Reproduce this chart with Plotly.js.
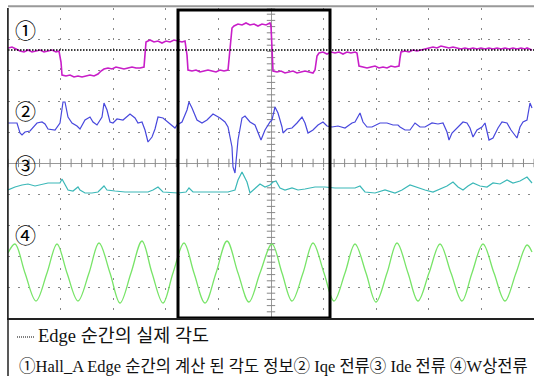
<!DOCTYPE html>
<html>
<head>
<meta charset="utf-8">
<script src="https://cdn.plot.ly/plotly-3.0.1.min.js"></script>
<style>html,body{margin:0;padding:0;background:#fff;}#chart{width:534px;height:376px;}</style>
</head>
<body>
<div id="chart"></div>
<script>
// time axis: samples relative to screen centre; value: counts relative to centre line (positive up)
// ① Hall_A edge computed angle (magenta)
const ch1T = [-263,-259,-255,-251,-247,-243,-239,-235,-231,-227,-223,-219,-215,-212,-210,-209,-205,-201,-197,-193,-189,-185,-181,-177,-173,-170,-167,-163,-159,-155,-151,-147,-143,-139,-135,-131,-127,-126,-125,-121,-117,-113,-109,-105,-101,-97,-93,-89,-86,-84,-83,-79,-75,-71,-67,-63,-59,-55,-51,-47,-43,-41,-39,-37,-33,-29,-25,-21,-17,-13,-9,-5,-1,0,1,2,6,10,14,18,22,26,30,34,38,42,44,46,48,52,56,60,64,68,72,76,80,84,86,87,88,92,96,100,104,108,112,116,120,124,128,129,130,134,138,142,146,150,154,158,162,166,170,174,178,182,186,190,194,198,202,206,210,214,218,222,226,230,234,238,242,246,250,254,256,258,261];
const ch1V = [115,116,114,112,111,113,111,112,113,111,112,113,111,112,101,88,87,88,86,87,86,87,88,87,89,92,94,95,94,96,95,94,95,96,95,95,96,108,121,123,121,122,120,122,121,123,122,121,122,108,93,92,93,91,92,93,92,91,93,92,93,113,135,137,139,138,140,138,139,137,139,138,140,137,113,92,91,92,90,91,92,90,91,92,91,90,93,107,110,111,109,111,110,111,109,111,110,111,110,103,97,96,95,96,97,95,96,95,97,96,97,105,111,112,111,113,112,113,114,115,116,115,117,116,115,116,115,114,115,114,115,114,115,114,115,114,115,114,115,114,115,114,115,114,115,114,113,98,87];
// ② Iqe current (blue)
const ch2T = [-263,-254,-251,-249,-246,-241,-234,-229,-226,-223,-216,-211,-208,-206,-203,-199,-194,-191,-186,-181,-178,-174,-169,-167,-164,-161,-158,-154,-148,-141,-136,-133,-129,-126,-123,-119,-116,-113,-108,-103,-99,-96,-94,-89,-84,-82,-79,-74,-69,-64,-58,-51,-46,-43,-39,-38,-36,-33,-29,-26,-21,-16,-10,-6,-1,1,4,7,11,12,16,21,26,31,34,37,42,47,52,56,61,67,74,81,84,89,92,96,101,109,116,122,127,129,134,139,144,149,154,161,167,172,176,178,181,187,192,196,199,202,206,211,214,218,222,227,231,236,240,246,249,252,256,259,261];
const ch2V = [40,40,30,28,31,32,40,41,39,34,33,40,61,61,46,40,37,34,43,46,41,38,46,60,53,41,40,44,43,49,45,40,41,33,21,26,34,46,45,41,38,35,38,41,53,61,55,43,40,43,49,45,41,36,16,-4,-10,23,45,47,41,38,23,33,41,43,56,50,36,30,34,35,40,46,40,30,33,38,41,37,36,37,35,40,41,50,41,36,36,40,40,38,38,36,33,33,40,36,36,40,39,40,31,23,30,36,41,40,35,26,33,36,40,23,25,35,41,40,33,25,36,41,43,60,55];
// ③ Ide current (teal)
const ch3T = [-263,-256,-249,-243,-236,-229,-223,-216,-211,-209,-206,-203,-198,-193,-191,-186,-179,-173,-167,-164,-156,-146,-133,-123,-118,-113,-108,-93,-85,-82,-78,-63,-43,-36,-33,-29,-24,-21,-16,-11,-6,-1,2,5,9,14,21,27,34,44,54,64,74,84,89,94,104,114,124,131,139,147,154,162,169,176,182,187,192,197,202,209,216,222,229,236,242,249,256,261];
const ch3V = [-27,-24,-22,-21,-23,-21,-20,-20,-20,-16,-22,-27,-28,-24,-27,-30,-30,-29,-23,-27,-28,-29,-29,-29,-27,-24,-29,-30,-29,-25,-29,-29,-29,-27,-17,-9,-19,-30,-25,-21,-24,-22,-19,-18,-25,-27,-25,-27,-26,-24,-24,-25,-25,-25,-23,-29,-30,-27,-30,-27,-22,-25,-27,-29,-26,-23,-19,-24,-27,-23,-20,-23,-24,-20,-21,-17,-20,-18,-14,-20];
// ④ W phase current (green)
const ch4T = [-263,-256,-246,-235,-224,-214,-204,-193,-182,-172,-161,-151,-140,-129,-119,-108,-98,-87,-77,-66,-55,-44,-33,-22,-11,1,11,21,32,42,53,63,74,84,95,105,116,126,137,147,158,169,180,191,201,212,223,234,245,256,261];
const ch4V = [-90,-81,-110,-138,-110,-81,-110,-138,-110,-80,-110,-140,-110,-78,-110,-140,-110,-80,-110,-140,-110,-78,-110,-139,-110,-81,-110,-138,-110,-80,-110,-138,-110,-81,-110,-139,-110,-80,-110,-138,-110,-81,-110,-138,-110,-81,-110,-138,-110,-82,-89];
// real angle at the edge instant (reference level)
const refLevel = 113;
// highlighted window
const boxT = [-93, 59];
const channelLabels = ['①','②','③','④'];
const channelLabelV = [132, 51, -3, -73];
const legendLine1 = 'Edge 순간의 실제 각도';
const legendLine2 = '①Hall_A Edge 순간의 계산 된 각도 정보② Iqe 전류③ Ide 전류 ④W상전류';

const X0 = -263, X1 = 263, Y0 = -155, Y1 = 155;
const DX = 52.6, DY = 31;

// centre-cross tick marks (decoration)
const tkx = [], tky = [], tvx = [], tvy = [];
for (let t = X0; t <= X1 + 0.01; t += DX / 5) { tkx.push(t); tky.push(0); }
for (let v = Y0; v <= Y1 + 0.01; v += DY / 5) { tvx.push(0); tvy.push(v); }

const serif = 'Liberation Serif, Noto Sans CJK KR, serif';

const traces = [
  {x: tkx, y: tky, mode: 'markers', marker: {symbol: 'line-ns', size: 6, line: {width: 1, color: '#888'}}, hoverinfo: 'skip', showlegend: false},
  {x: tvx, y: tvy, mode: 'markers', marker: {symbol: 'line-ew', size: 6, line: {width: 1, color: '#888'}}, hoverinfo: 'skip', showlegend: false},
  {x: ch1T, y: ch1V, mode: 'lines', line: {color: '#c81ec8', width: 1.6}, name: '①', showlegend: false},
  {x: ch2T, y: ch2V, mode: 'lines', line: {color: '#4848dd', width: 1.2}, name: '②', showlegend: false},
  {x: ch3T, y: ch3V, mode: 'lines', line: {color: '#3bb8b8', width: 1.2}, name: '③', showlegend: false},
  {x: ch4T, y: ch4V, mode: 'lines', line: {color: '#78e468', width: 1.3, shape: 'spline', smoothing: 1}, name: '④', showlegend: false}
];

const annotations = channelLabels.map((s, i) => ({
  x: -246, y: channelLabelV[i], xref: 'x', yref: 'y', text: s, showarrow: false,
  font: {family: serif, size: 21, color: '#000'}, xanchor: 'center', yanchor: 'middle'
}));
annotations.push({x: (36 - 8) / 526, y: -(336 - 318) / 310, xref: 'paper', yref: 'paper', text: legendLine1,
  showarrow: false, xanchor: 'left', yanchor: 'middle', font: {family: serif, size: 18.5, color: '#111'}});
annotations.push({x: (17 - 8) / 526, y: -(367 - 318) / 310, xref: 'paper', yref: 'paper', text: legendLine2,
  showarrow: false, xanchor: 'left', yanchor: 'middle', font: {family: serif, size: 16.5, color: '#111'}});

const shapes = [
  {type: 'line', xref: 'x', yref: 'y', x0: X0, x1: X1, y0: refLevel, y1: refLevel, line: {color: '#000', width: 1.3, dash: '1.5px,1.5px'}},
  {type: 'rect', xref: 'x', yref: 'y', x0: boxT[0], x1: boxT[1], y0: Y0, y1: 153, line: {color: '#000', width: 3}},
  {type: 'line', xref: 'paper', yref: 'paper', x0: 0, x1: 1, y0: 1.006, y1: 1.006, line: {color: '#999', width: 2}},
  {type: 'line', xref: 'paper', yref: 'paper', x0: 0, x1: 0, y0: 1, y1: -0.2, line: {color: '#222', width: 1.5}},
  {type: 'line', xref: 'paper', yref: 'paper', x0: (17 - 8) / 526, x1: (34 - 8) / 526, y0: -(337 - 318) / 310, y1: -(337 - 318) / 310, line: {color: '#000', width: 1, dash: '1px,1px'}}
];

const layout = {
  width: 534, height: 376,
  margin: {l: 8, r: 0, t: 8, b: 58, pad: 0},
  paper_bgcolor: '#fff', plot_bgcolor: '#fff',
  showlegend: false,
  xaxis: {range: [X0, X1], tick0: 0, dtick: DX, showticklabels: false, ticks: '',
    showgrid: true, gridcolor: '#888', gridwidth: 1, griddash: '1.5px,8.5px',
    zeroline: true, zerolinecolor: '#999', zerolinewidth: 1,
    showline: true, linecolor: '#222', linewidth: 1.5, fixedrange: true},
  yaxis: {range: [Y0, Y1], tick0: 0, dtick: DY, showticklabels: false, ticks: '',
    showgrid: true, gridcolor: '#888', gridwidth: 1, griddash: '1.5px,8.5px',
    zeroline: true, zerolinecolor: '#999', zerolinewidth: 1,
    showline: true, linecolor: '#555', linewidth: 1.5, fixedrange: true},
  annotations: annotations,
  shapes: shapes
};

Plotly.newPlot('chart', traces, layout, {staticPlot: true, displayModeBar: false});
</script>
</body>
</html>
